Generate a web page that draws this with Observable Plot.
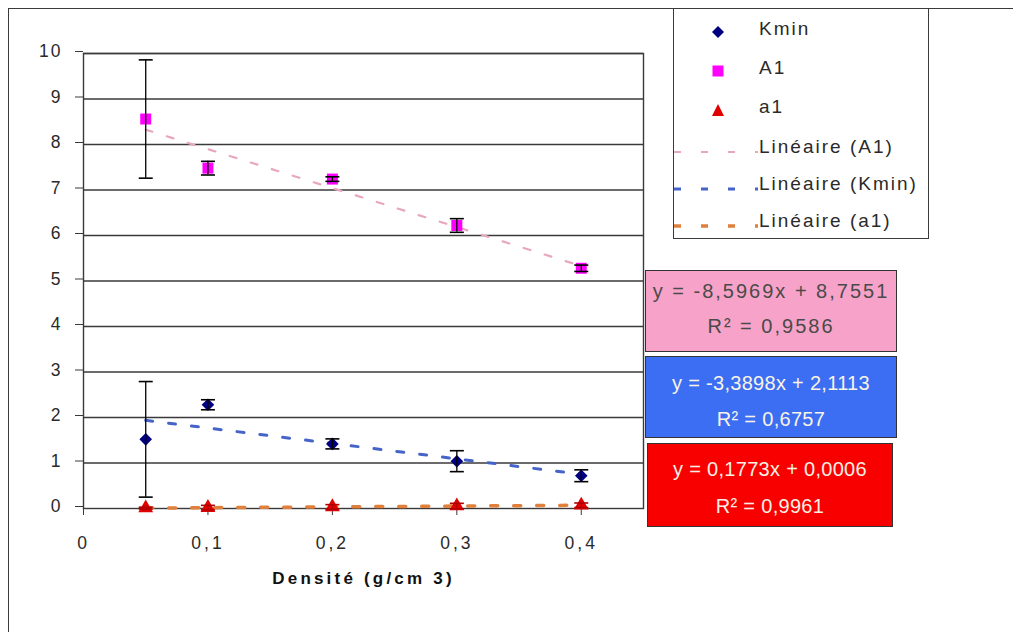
<!DOCTYPE html>
<html>
<head>
<meta charset="utf-8">
<script src="https://cdn.jsdelivr.net/npm/d3@7"></script>
<script src="https://cdn.jsdelivr.net/npm/@observablehq/plot@0.6"></script>
<style>
  html, body { margin: 0; padding: 0; background: #fff; }
  body { position: relative; width: 1013px; height: 632px; overflow: hidden; font-family: "Liberation Sans", Arial, sans-serif; }
  #outer { position: absolute; left: 8px; top: 8px; width: 1010px; height: 630px; border-top: 1.5px solid #3a3a3a; border-left: 1.5px solid #3a3a3a; }
  #chart { position: absolute; left: 0; top: 0; }
  #chart svg g[aria-label="y-axis tick label"] text { letter-spacing: 2px; }
  #chart svg g[aria-label="x-axis tick label"] text { letter-spacing: 3px; }
  #chart svg .xtitle text { letter-spacing: 3.2px; }
  #legend { position: absolute; left: 673px; top: 8px; width: 256px; height: 231px; box-sizing: border-box; border: 1.5px solid #3a3a3a; background: #fff; }
  .lg { position: absolute; font-size: 19px; letter-spacing: 2px; color: #2a2a2a; line-height: 1; transform: translateY(-50%); white-space: nowrap; }
  .lgsym { position: absolute; }
  .box { position: absolute; box-sizing: border-box; border: 1.2px solid #333; }
  .eq { position: absolute; left: 0; width: 100%; text-align: center; font-size: 20px; line-height: 1; transform: translateY(-50%); white-space: nowrap; }
</style>
</head>
<body>
<div id="outer"></div>
<div id="chart"></div>
<script>
// ---- data ----
const densite = [0.05, 0.1, 0.2, 0.3, 0.4];
const kminValues = [1.52, 2.28, 1.42, 1.04, 0.72];
const kminErrors = [1.27, 0.11, 0.11, 0.23, 0.13];
const A1Values = [8.56, 7.48, 7.24, 6.22, 5.28];
const A1Errors = [1.3, 0.15, 0.05, 0.15, 0.07];
const a1Values = [0.009, 0.019, 0.035, 0.054, 0.071];
const a1Errors = [0.02, 0.05, 0.05, 0.06, 0.05];
const xTicks = [0, 0.1, 0.2, 0.3, 0.4];
const xTickLabels = ["0", "0,1", "0,2", "0,3", "0,4"];
const yTicks = [0, 1, 2, 3, 4, 5, 6, 7, 8, 9, 10];
const xTitle = "Densité (g/cm 3)";
const legendLabels = ["Kmin", "A1", "a1", "Linéaire (A1)", "Linéaire (Kmin)", "Linéaire (a1)"];
const eqA1 = ["y = -8,5969x + 8,7551", "R² = 0,9586"];
const eqKmin = ["y = -3,3898x + 2,1113", "R² = 0,6757"];
const eqa1 = ["y = 0,1773x + 0,0006", "R² = 0,9961"];

const rows = (vals, errs) => densite.map((x, i) => ({x, v: vals[i], e: errs[i]}));
const kRows = rows(kminValues, kminErrors);
const ARows = rows(A1Values, A1Errors);
const aRows = rows(a1Values, a1Errors);

const diamondSym = {draw(ctx, size) { const r = Math.sqrt(size / Math.PI); ctx.moveTo(0, -r); ctx.lineTo(r, 0); ctx.lineTo(0, r); ctx.lineTo(-r, 0); ctx.closePath(); }};
const capSym = {draw(ctx, size) { const r = Math.sqrt(size / Math.PI); ctx.moveTo(-r, 0); ctx.lineTo(r, 0); }};

function errorMarks(data, color) {
  return [
    Plot.ruleX(data, {x: "x", y1: d => d.v - d.e, y2: d => d.v + d.e, stroke: color, strokeWidth: 1.3}),
    Plot.dot(data, {x: "x", y: d => d.v + d.e, symbol: capSym, r: 7, stroke: color, strokeWidth: 1.6, fill: "none"}),
    Plot.dot(data, {x: "x", y: d => d.v - d.e, symbol: capSym, r: 7, stroke: color, strokeWidth: 1.6, fill: "none"})
  ];
}

const chart = Plot.plot({
  width: 1013,
  height: 632,
  marginLeft: 83,
  marginRight: 370,
  marginTop: 53,
  marginBottom: 124,
  x: {domain: [0, 0.45]},
  y: {domain: [0, 10]},
  style: {fontFamily: "'Liberation Sans', Arial, sans-serif", background: "transparent", color: "#2a2a2a", overflow: "visible"},
  marks: [
    Plot.gridY(yTicks.slice(1), {stroke: "#3a3a3a", strokeOpacity: 1, strokeWidth: 1.4}),
    Plot.frame({stroke: "#3a3a3a", strokeWidth: 1.4}),
    Plot.axisY({ticks: yTicks, tickSize: 8, tickPadding: 13, fontSize: 17.5, label: null, stroke: "#3a3a3a", dy: -2}),
    Plot.axisX({ticks: xTicks, tickFormat: (d, i) => xTickLabels[i], tickSize: 7, tickPadding: 21, fontSize: 17.5, label: null, stroke: "#3a3a3a"}),
    Plot.text([xTitle], {frameAnchor: "bottom", dy: 75, fontSize: 17, fontWeight: "bold", fill: "#111", className: "xtitle"}),
    Plot.linearRegressionY(ARows, {x: "x", y: "v", ci: 0, stroke: "#e8a6c0", strokeWidth: 2.2, strokeDasharray: "7,15"}),
    Plot.linearRegressionY(kRows, {x: "x", y: "v", ci: 0, stroke: "#4664c8", strokeWidth: 3, strokeDasharray: "7,16"}),
    Plot.linearRegressionY(aRows, {x: "x", y: "v", ci: 0, stroke: "#e0803c", strokeWidth: 3.5, strokeDasharray: "7,16"}),
    Plot.dot(kRows, {x: "x", y: "v", symbol: diamondSym, r: 6.3, fill: "#000080", stroke: "none"}),
    Plot.dot(ARows, {x: "x", y: "v", symbol: "square", r: 6.2, fill: "#ff00ff", stroke: "none"}),
    Plot.dot(aRows, {x: "x", y: "v", symbol: "triangle", r: 5.5, fill: "#e00000", stroke: "none"}),
    ...errorMarks(kRows, "#000"),
    ...errorMarks(ARows, "#000"),
    ...errorMarks(aRows, "#b00000")
  ]
});
document.getElementById("chart").append(chart);

// ---- legend ----
const legend = document.createElement("div");
legend.id = "legend";
document.body.append(legend);
const rowY = [19, 58, 97, 137, 174, 211]; // relative centers
const symbols = [
  `<svg width="14" height="14"><path d="M7,1 L13,7 L7,13 L1,7Z" fill="#000080"/></svg>`,
  `<svg width="14" height="14"><rect x="1.5" y="1.5" width="11" height="11" fill="#ff00ff"/></svg>`,
  `<svg width="14" height="14"><path d="M7,1 L13,13 L1,13Z" fill="#e00000"/></svg>`
];
const lineStyles = [
  {stroke: "#e8a6c0", w: 2.2},
  {stroke: "#4664c8", w: 3},
  {stroke: "#e0803c", w: 3.5}
];
legendLabels.forEach((lab, i) => {
  const t = document.createElement("div");
  t.className = "lg";
  t.textContent = lab;
  t.style.left = (758 - 673) + "px";
  t.style.top = rowY[i] + "px";
  legend.append(t);
  const s = document.createElement("div");
  s.className = "lgsym";
  if (i < 3) {
    s.innerHTML = symbols[i];
    s.style.left = (717 - 673 - 7) + "px";
    s.style.top = (rowY[i] + 4 - 7) + "px";
  } else {
    const ls = lineStyles[i - 3];
    s.innerHTML = `<svg width="90" height="8"><line x1="0" y1="4" x2="84" y2="4" stroke="${ls.stroke}" stroke-width="${ls.w}" stroke-dasharray="7,20"/></svg>`;
    s.style.left = "0px";
    s.style.top = (rowY[i] - 4) + "px";
  }
  legend.append(s);
});

// ---- equation boxes ----
function addBox(lines, left, top, w, h, bg, color, spacing, y1, y2) {
  const b = document.createElement("div");
  b.className = "box";
  Object.assign(b.style, {left: left + "px", top: top + "px", width: w + "px", height: h + "px", background: bg});
  [[lines[0], y1], [lines[1], y2]].forEach(([txt, y]) => {
    const e = document.createElement("div");
    e.className = "eq";
    e.textContent = txt;
    Object.assign(e.style, {top: y + "px", color, letterSpacing: spacing});
    b.append(e);
  });
  document.body.append(b);
}
addBox(eqA1, 645, 270, 252, 82, "#f7a3c9", "#4a4a4a", "2px", 20, 55);
addBox(eqKmin, 645, 356, 252, 82, "#3b6ef3", "#f8f3e4", "0.3px", 26, 62);
addBox(eqa1, 647, 443, 246, 84, "#f80000", "#f8f0e4", "0.3px", 25, 62);
</script>
</body>
</html>
